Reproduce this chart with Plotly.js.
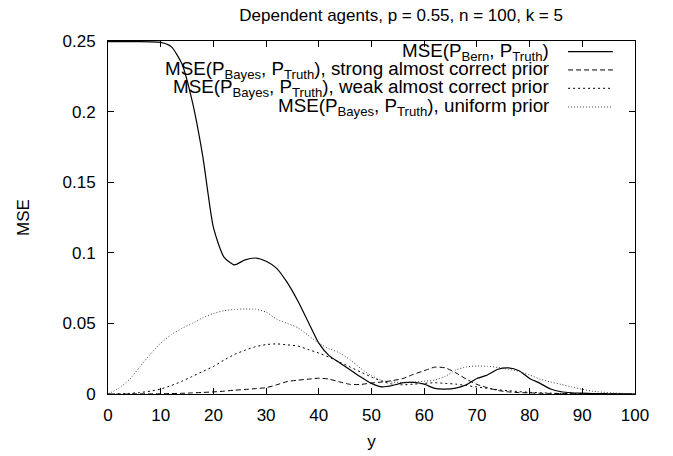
<!DOCTYPE html>
<html>
<head>
<meta charset="utf-8">
<script src="https://cdn.plot.ly/plotly-3.0.1.min.js"></script>
<style>html,body{margin:0;padding:0;background:#fff;}#chart{width:673px;height:456px;}</style>
</head>
<body>
<div id="chart"></div>
<script>
// y values (x axis) shared by all series
const yGrid = [0,2,4,6,8,10,12,14,16,18,20,22,24,26,28,30,32,34,36,38,40,42,44,46,48,50,52,54,56,58,60,62,64,66,68,70,72,74,76,78,80,82,84,86,88,90,92,94,96,98,100];

const mseBern = [0.2495,0.2495,0.2495,0.2495,0.2494,0.249,0.246,0.234,0.207,0.168,0.118,0.097,0.0915,0.095,0.0963,0.094,0.089,0.079,0.066,0.051,0.036,0.027,0.022,0.017,0.012,0.0075,0.005,0.006,0.008,0.0082,0.007,0.004,0.0035,0.0042,0.0065,0.011,0.0135,0.0175,0.0185,0.0165,0.011,0.0075,0.0035,0.0016,0.0009,0.0006,0.0003,0.0002,0.0001,0.0001,0];

const mseStrong = [0,0,0,0.0001,0.0001,0.0002,0.0003,0.0005,0.0008,0.0011,0.0015,0.002,0.0027,0.0032,0.0038,0.0045,0.0065,0.0088,0.0098,0.0105,0.0112,0.0105,0.0085,0.0068,0.0068,0.0078,0.0085,0.0095,0.011,0.014,0.0165,0.019,0.0185,0.015,0.0105,0.0068,0.0045,0.0025,0.0015,0.001,0.0008,0.0005,0.0004,0.0003,0.0002,0.0002,0.0001,0.0001,0.0001,0,0];

const mseWeak = [0,0.0001,0.0004,0.001,0.002,0.0035,0.006,0.009,0.0125,0.016,0.0195,0.024,0.028,0.031,0.0335,0.035,0.0355,0.0348,0.034,0.0315,0.029,0.026,0.0225,0.019,0.0155,0.012,0.009,0.007,0.0065,0.007,0.0075,0.008,0.0075,0.007,0.006,0.005,0.004,0.003,0.0023,0.0017,0.0012,0.0009,0.0006,0.0004,0.0003,0.0002,0.0001,0.0001,0.0001,0.0001,0.0001];

const mseUniform = [0,0.004,0.01,0.019,0.028,0.036,0.042,0.0465,0.05,0.054,0.057,0.059,0.0598,0.0602,0.06,0.058,0.053,0.05,0.047,0.0415,0.036,0.032,0.029,0.024,0.018,0.013,0.0095,0.0085,0.0082,0.0085,0.009,0.0098,0.0125,0.017,0.0192,0.0198,0.0196,0.0188,0.0175,0.016,0.0135,0.0105,0.0085,0.0068,0.005,0.0033,0.002,0.0012,0.0007,0.0004,0.0002];

const seriesNames = [
  'MSE(P<sub>Bern</sub>, P<sub>Truth</sub>)',
  'MSE(P<sub>Bayes</sub>, P<sub>Truth</sub>), strong almost correct prior',
  'MSE(P<sub>Bayes</sub>, P<sub>Truth</sub>), weak almost correct prior',
  'MSE(P<sub>Bayes</sub>, P<sub>Truth</sub>), uniform prior'
];
const seriesValues = [mseBern, mseStrong, mseWeak, mseUniform];
const styles = [
  {color:'#000', dash:'solid', width:1.2},
  {color:'#000', dash:'5px,3px', width:1},
  {color:'#000', dash:'2px,3px', width:1},
  {color:'#444', dash:'1px,2px', width:1}
];

const FONT = 'Liberation Sans, Arial, Helvetica, sans-serif';
const traces = seriesValues.map((v,i)=>({
  type:'scatter', mode:'lines', x:yGrid, y:v, name:seriesNames[i],
  line:{color:styles[i].color, dash:styles[i].dash, width:styles[i].width, shape:'spline', smoothing:0.6},
  showlegend:false, hoverinfo:'skip'
}));

// legend drawn gnuplot-style: right-aligned text, sample on the right
const legY = [0.970, 0.918, 0.866, 0.813];
const annotations = seriesNames.map((n,i)=>({
  xref:'paper', yref:'paper', x:0.8406, y:legY[i], xanchor:'right', yanchor:'middle',
  text:n, showarrow:false, font:{family:FONT, size:18.8, color:'#000'}
}));
const shapes = styles.map((s,i)=>({
  type:'line', xref:'paper', yref:'paper', x0:0.873, x1:0.958, y0:legY[i], y1:legY[i],
  line:{color:s.color, dash:s.dash, width:s.width}
}));

const layout = {
  width:673, height:456,
  margin:{l:108, r:38, t:41, b:62},
  paper_bgcolor:'#fff', plot_bgcolor:'#fff',
  font:{family:FONT, size:17, color:'#000'},
  title:{text:'Dependent agents, p = 0.55, n = 100, k = 5', x:0.596, xanchor:'center', y:0.967, yanchor:'middle', yref:'container', font:{family:FONT, size:17, color:'#000'}},
  xaxis:{range:[0,100], dtick:10, tick0:0, ticks:'inside', ticklen:6, tickcolor:'#000', showline:true, linecolor:'#000', linewidth:1, mirror:'ticks', showgrid:false, zeroline:false, ticklabelstandoff:6,
         title:{text:'y', standoff:10, font:{family:FONT, size:17}}},
  yaxis:{range:[0,0.25], dtick:0.05, tick0:0, ticks:'inside', ticklen:6, tickcolor:'#000', showline:true, linecolor:'#000', linewidth:1, mirror:'ticks', showgrid:false, zeroline:false, ticklabelstandoff:8,
         title:{text:'MSE', standoff:28, font:{family:FONT, size:17}}},
  annotations:annotations,
  shapes:shapes
};

Plotly.newPlot('chart', traces, layout, {displayModeBar:false, staticPlot:true});
</script>
</body>
</html>
